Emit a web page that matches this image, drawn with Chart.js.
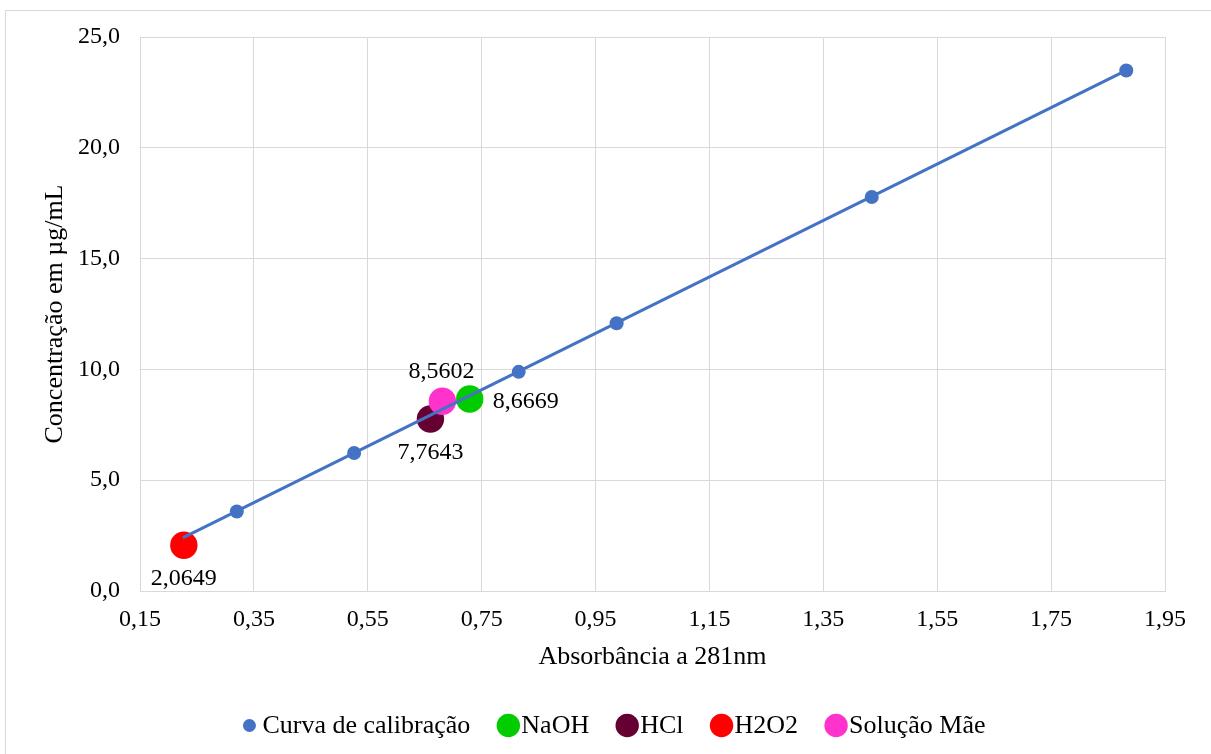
<!DOCTYPE html>
<html lang="pt-BR">
<head>
    <meta charset="UTF-8">
    <meta name="viewport" content="width=device-width, initial-scale=1.0">
    <title>Curva de calibração - Absorbância a 281nm</title>
    <script src="https://cdn.jsdelivr.net/npm/chart.js@4.4.1/dist/chart.umd.min.js"></script>
    <style>
        html, body { margin: 0; padding: 0; background: #ffffff; overflow: hidden; }
        .chart-box { position: relative; width: 1211px; height: 754px; }
    </style>
</head>
<body>
    <div class="chart-box">
        <canvas id="calibrationChart"></canvas>
    </div>

    <script>
        // Curva de calibração (pontos medidos)
        const calibAbs = [0.320, 0.526, 0.815, 0.987, 1.435, 1.882];
        const calibConc = [3.59, 6.23, 9.89, 12.08, 17.78, 23.49];

        // Linha de tendência (extremos)
        const trendAbs = [0.225, 1.882];
        const trendConc = [2.40, 23.49];

        // Amostras
        const sampleNames = ['NaOH', 'HCl', 'H2O2', 'Solução Mãe'];
        const sampleAbs = [0.729, 0.660, 0.227, 0.681];
        const sampleConc = [8.6669, 7.7643, 2.0649, 8.5602];

        // Marcas dos eixos
        const xTicks = [0.15, 0.35, 0.55, 0.75, 0.95, 1.15, 1.35, 1.55, 1.75, 1.95];
        const yTicks = [0, 5, 10, 15, 20, 25];

        // Estilos
        const FONT = "'Liberation Serif', 'Times New Roman', serif";
        const BLUE = '#4472C4';
        const GRID = '#d9d9d9';
        const sampleColors = ['#00CC00', '#660033', '#FF0000', '#FF33CC'];
        const sampleLabelPos = ['right', 'below', 'below', 'above'];
        const sampleOrder = [2, 3, 4, 1];

        const toPoints = (xs, ys) => xs.map((x, i) => ({ x: x, y: ys[i] }));
        const comma = (v, d) => v.toFixed(d).replace('.', ',');

        // Fundo branco e moldura do gráfico
        const framePlugin = {
            id: 'frame',
            beforeDraw(chart) {
                const ctx = chart.ctx;
                ctx.save();
                ctx.fillStyle = '#ffffff';
                ctx.fillRect(0, 0, chart.width, chart.height);
                ctx.strokeStyle = GRID;
                ctx.lineWidth = 1;
                ctx.strokeRect(5.5, 10.5, chart.width + 20, chart.height + 20);
                ctx.restore();
            }
        };

        // Rótulos de dados das amostras
        const labelPlugin = {
            id: 'sampleLabels',
            afterDatasetsDraw(chart) {
                const ctx = chart.ctx;
                ctx.save();
                ctx.font = '24px ' + FONT;
                ctx.fillStyle = '#000000';
                ctx.textBaseline = 'middle';
                chart.data.datasets.forEach((ds, i) => {
                    if (!ds.labelPos) return;
                    const meta = chart.getDatasetMeta(i);
                    meta.data.forEach((pt, j) => {
                        const text = comma(ds.data[j].y, 4);
                        if (ds.labelPos === 'right') {
                            ctx.textAlign = 'left';
                            ctx.fillText(text, pt.x + 23, pt.y + 2.5);
                        } else if (ds.labelPos === 'above') {
                            ctx.textAlign = 'center';
                            ctx.fillText(text, pt.x - 1, pt.y - 30);
                        } else {
                            ctx.textAlign = 'center';
                            ctx.fillText(text, pt.x, pt.y + 33.5);
                        }
                    });
                });
                ctx.restore();
            }
        };

        // Legenda desenhada à mão (tamanhos de marcador diferentes)
        const legendPlugin = {
            id: 'customLegend',
            afterDraw(chart) {
                const ctx = chart.ctx;
                const items = chart.data.datasets.filter(ds => !ds.hideInLegend);
                const y = 725.5;
                const textGap = 13;
                const itemGap = 38;
                ctx.save();
                ctx.font = '26px ' + FONT;
                ctx.textBaseline = 'middle';
                ctx.textAlign = 'left';

                // largura total para centralizar
                let total = 0;
                items.forEach((ds, i) => {
                    total += textGap + ctx.measureText(ds.label).width;
                    if (i < items.length - 1) total += itemGap;
                });
                total += items[0].pointRadius;
                let x = 614 - total / 2 + items[0].pointRadius;

                items.forEach(ds => {
                    ctx.beginPath();
                    ctx.arc(x, y, ds.legendRadius, 0, Math.PI * 2);
                    ctx.fillStyle = ds.backgroundColor;
                    ctx.fill();
                    ctx.fillStyle = '#000000';
                    ctx.fillText(ds.label, x + textGap, y + 0.5);
                    x += textGap + ctx.measureText(ds.label).width + itemGap;
                });
                ctx.restore();
            }
        };

        // Monta os datasets
        function buildDatasets() {
            const datasets = [{
                label: 'Curva de calibração',
                data: toPoints(calibAbs, calibConc),
                backgroundColor: BLUE,
                borderColor: BLUE,
                borderWidth: 0,
                pointRadius: 7,
                pointHoverRadius: 7,
                legendRadius: 6.5,
                order: 5
            }];

            sampleNames.forEach((name, i) => {
                datasets.push({
                    label: name,
                    data: [{ x: sampleAbs[i], y: sampleConc[i] }],
                    backgroundColor: sampleColors[i],
                    borderColor: sampleColors[i],
                    borderWidth: 0,
                    pointRadius: 13.7,
                    pointHoverRadius: 13.7,
                    legendRadius: 11.7,
                    labelPos: sampleLabelPos[i],
                    order: sampleOrder[i]
                });
            });

            datasets.push({
                label: 'Linear (Curva de calibração)',
                data: toPoints(trendAbs, trendConc),
                showLine: true,
                borderColor: BLUE,
                backgroundColor: BLUE,
                borderWidth: 3,
                pointRadius: 0,
                pointHoverRadius: 0,
                hideInLegend: true,
                order: 0
            });
            return datasets;
        }

        // Desenha o gráfico
        function renderChart() {
            const ctx = document.getElementById('calibrationChart').getContext('2d');

            new Chart(ctx, {
                type: 'scatter',
                data: { datasets: buildDatasets() },
                plugins: [framePlugin, labelPlugin, legendPlugin],
                options: {
                    responsive: true,
                    maintainAspectRatio: false,
                    animation: false,
                    layout: {
                        padding: { left: 0, right: 46, top: 37, bottom: 80 }
                    },
                    plugins: {
                        legend: { display: false },
                        tooltip: { enabled: false }
                    },
                    scales: {
                        x: {
                            type: 'linear',
                            min: xTicks[0],
                            max: xTicks[xTicks.length - 1],
                            afterBuildTicks: scale => {
                                scale.ticks = xTicks.map(v => ({ value: v }));
                            },
                            afterFit: scale => { scale.height = 83; },
                            ticks: {
                                color: '#000000',
                                font: { family: FONT, size: 24 },
                                padding: 14,
                                maxRotation: 0,
                                autoSkip: false,
                                callback: v => comma(v, 2)
                            },
                            grid: { color: GRID, lineWidth: 1, drawTicks: false },
                            border: { color: GRID },
                            title: {
                                display: true,
                                text: 'Absorbância a 281nm',
                                color: '#000000',
                                font: { family: FONT, size: 26 },
                                padding: { top: 0, bottom: 1 }
                            }
                        },
                        y: {
                            type: 'linear',
                            min: yTicks[0],
                            max: yTicks[yTicks.length - 1],
                            afterBuildTicks: scale => {
                                scale.ticks = yTicks.map(v => ({ value: v }));
                            },
                            afterFit: scale => { scale.width = 140; },
                            ticks: {
                                color: '#000000',
                                font: { family: FONT, size: 24 },
                                padding: 20,
                                callback: v => comma(v, 1)
                            },
                            grid: { color: GRID, lineWidth: 1, drawTicks: false },
                            border: { color: GRID },
                            title: {
                                display: true,
                                text: 'Concentração em µg/mL',
                                color: '#000000',
                                font: { family: FONT, size: 26 },
                                padding: { top: 40, bottom: 0 }
                            }
                        }
                    }
                }
            });
        }

        document.addEventListener('DOMContentLoaded', () => {
            renderChart();
        });
    </script>
</body>
</html>
